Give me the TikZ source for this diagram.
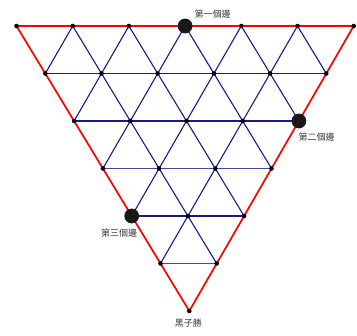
\documentclass[tikz,border=0pt]{standalone}
\usepackage{fontspec}
\newfontfamily\cjk{Noto Sans CJK TC}
\definecolor{gridblue}{RGB}{25,25,140}
\definecolor{thickblue}{RGB}{70,70,165}
\definecolor{labgray}{RGB}{55,55,55}
\definecolor{bigdot}{RGB}{25,25,25}
\tikzset{
  gridline/.style={draw=gridblue, line width=1.1pt},
  gridthick/.style={draw=thickblue, line width=1.7pt},
  redge/.style={draw=red, line width=1.7pt, line join=round},
  smalldot/.style={circle, fill=black, inner sep=0pt, minimum size=4.6pt},
  bigdotstyle/.style={circle, fill=bigdot, inner sep=0pt, minimum size=14.8pt},
  lab/.style={font=\cjk\fontsize{9}{10}\selectfont, text=labgray, inner sep=0pt}
}
\begin{document}
\begin{tikzpicture}[x=1pt,y=-1pt]
\useasboundingbox (0,0) rectangle (357,336);
% lattice points
\foreach \j in {0,...,6}{
  \pgfmathtruncatemacro\m{6-\j}
  \foreach \i in {0,...,\m}{
    \coordinate (p\i-\j) at ({16.5+\i*56.2+\j*28.8},{26+\j*47.5});
  }
}
% horizontal lines
\foreach \j in {1,2,4}{
  \pgfmathtruncatemacro\m{6-\j}
  \draw[gridline] (p0-\j) -- (p\m-\j);
}
\foreach \j in {3,5}{
  \pgfmathtruncatemacro\m{6-\j}
  \draw[gridthick] (p0-\j) -- (p\m-\j);
}
% lines parallel to left edge
\foreach \i in {1,...,5}{
  \pgfmathtruncatemacro\m{6-\i}
  \draw[gridline] (p\i-0) -- (p\i-\m);
}
% lines parallel to right edge
\foreach \k in {1,...,5}{
  \draw[gridline] (p\k-0) -- (p0-\k);
}
% red boundary
\draw[redge] (p0-0) -- (p6-0) -- (p0-6) -- cycle;
% small dots
\foreach \j in {0,...,6}{
  \pgfmathtruncatemacro\m{6-\j}
  \foreach \i in {0,...,\m}{
    \node[smalldot] (d\i-\j) at (p\i-\j) {};
  }
}
% big dots
\node[bigdotstyle] (b1) at (p3-0) {};
\node[bigdotstyle] (b2) at (p4-2) {};
\node[bigdotstyle] (b3) at (p0-4) {};
% labels
\node[lab] (l1) at (212.5,14) {第一個邊};
\node[lab] (l2) at (316.5,137) {第二個邊};
\node[lab] (l3) at (119,233) {第三個邊};
\node[lab] (l4) at (188.5,323.5) {黑子勝};
\end{tikzpicture}
\end{document}
